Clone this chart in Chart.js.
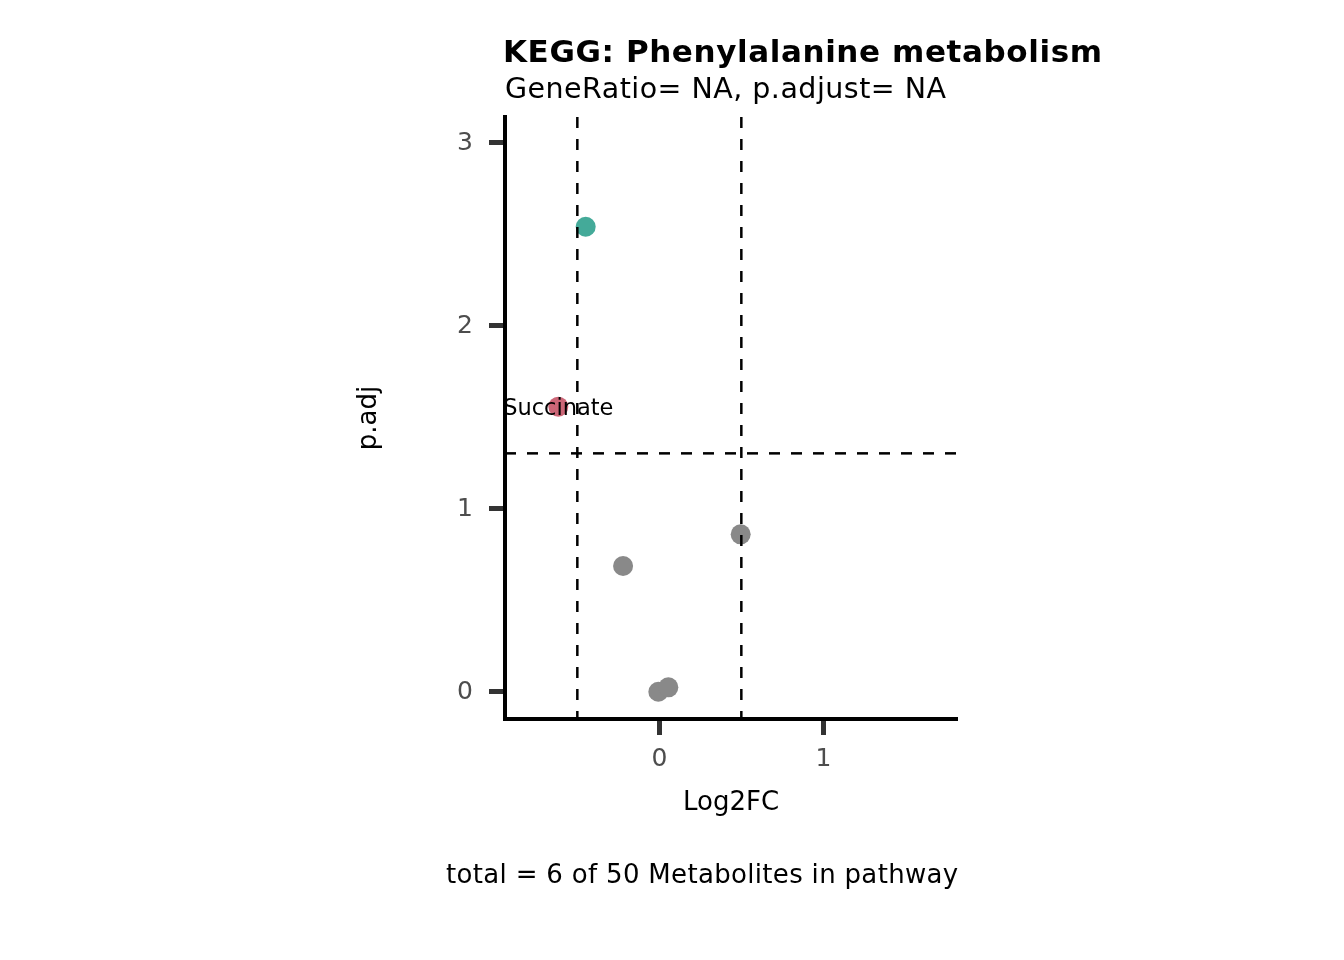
<!DOCTYPE html>
<html><head><meta charset="utf-8">
<script src="https://cdn.jsdelivr.net/npm/chart.js@4.4.1/dist/chart.umd.min.js"></script>
<style>html,body{margin:0;padding:0;background:#fff;}canvas{display:block;}</style>
</head><body>
<canvas id="c" width="1344" height="960"></canvas>
<script>
// ---- data ----
const pointLabels = ['', 'Succinate', '', '', '', ''];
const log2FC = [-0.449, -0.616, -0.221, 0.496, -0.006, 0.055];
const pAdj = [2.538, 1.556, 0.686, 0.859, 0.000, 0.024];
const groups = ['padj', 'padj_fc', 'ns', 'ns', 'ns', 'ns'];
const fcCutoffs = [-0.5, 0.5];
const pCutoffs = [1.301];
const xTicks = [0, 1];
const yTicks = [0, 1, 2, 3];
const xRange = [-0.941, 1.815];
const yRange = [-0.149, 3.137];
const titleText = 'KEGG: Phenylalanine metabolism';
const subtitleText = 'GeneRatio= NA, p.adjust= NA';
const xTitle = 'Log2FC';
const yTitle = 'p.adj';
const captionText = 'total = 6 of 50 Metabolites in pathway';

// ---- style ----
const groupColors = { padj: '#44AA99', padj_fc: '#CC6677', ns: '#898989' };
const FONT = "'DejaVu Sans', sans-serif";
const TICK_SIZE = 25, AXT_SIZE = 26, LAB_SIZE = 22.5;
const AREA = { left: 505, right: 957, top: 117, bottom: 719 };
const W = 1344, H = 960;
const TL = 16;

const xScaleH = 110;
const xTitlePadBottom = (AREA.bottom + xScaleH) - 803 - AXT_SIZE * 0.6;
const yScaleLeft = 340;
const yTitlePadTop = 369 - yScaleLeft - AXT_SIZE * 0.6;

// text blocks drawn outside the panel: [text, x, baseline, size, weight, width, align]
const textBlocks = [
  [titleText, 503, 62, 31, 'bold', 599, 'left'],
  [subtitleText, 505, 98, 28.5, 'normal', 441, 'left'],
  [captionText, 958, 883, 26, 'normal', 512, 'right']
];

function drawFitted(ctx, text, x, y, size, weight, target, align) {
  ctx.save();
  ctx.fillStyle = '#000';
  ctx.font = weight + ' ' + size + 'px ' + FONT;
  ctx.textBaseline = 'alphabetic';
  ctx.textAlign = 'left';
  const w0 = ctx.measureText(text).width;
  let w = w0;
  if ('letterSpacing' in ctx && text.length > 1) {
    const s = (target - w0) / (text.length - 1);
    ctx.letterSpacing = s.toFixed(2) + 'px';
    w = target;
  }
  const left = align === 'right' ? x - w : x;
  ctx.fillText(text, left, y);
  ctx.restore();
}

const points = log2FC.map((x, i) => ({ x, y: pAdj[i] }));
const datasets = [{
  data: points,
  pointBackgroundColor: groups.map(g => groupColors[g]),
  pointBorderWidth: 0,
  pointRadius: 10,
  pointHoverRadius: 10,
  showLine: false,
  order: 2
}];
fcCutoffs.forEach(c => datasets.push({
  data: [{ x: c, y: yRange[1] }, { x: c, y: yRange[0] }],
  showLine: true, borderColor: '#000', borderWidth: 2.5, borderDash: [11, 11],
  pointRadius: 0, fill: false, order: 0
}));
pCutoffs.forEach(c => datasets.push({
  data: [{ x: xRange[0], y: c }, { x: xRange[1], y: c }],
  showLine: true, borderColor: '#000', borderWidth: 2.5, borderDash: [11, 11],
  pointRadius: 0, fill: false, order: 0
}));

const annotate = {
  id: 'annotate',
  afterDatasetsDraw(chart) {
    const ctx = chart.ctx;
    const xs = chart.scales.x, ys = chart.scales.y;
    ctx.save();
    ctx.fillStyle = '#000';
    ctx.font = LAB_SIZE + 'px ' + FONT;
    ctx.textAlign = 'center';
    ctx.textBaseline = 'alphabetic';
    pointLabels.forEach((t, i) => {
      if (t) ctx.fillText(t, xs.getPixelForValue(log2FC[i]), ys.getPixelForValue(pAdj[i]) + LAB_SIZE * 0.729 / 2);
    });
    ctx.restore();
  },
  afterDraw(chart) {
    textBlocks.forEach(b => drawFitted(chart.ctx, ...b));
  }
};

new Chart(document.getElementById('c'), {
  type: 'scatter',
  data: { datasets },
  plugins: [annotate],
  options: {
    responsive: false,
    devicePixelRatio: 1,
    animation: false,
    events: [],
    layout: { padding: { left: yScaleLeft, right: W - AREA.right, top: AREA.top, bottom: H - AREA.bottom - xScaleH } },
    plugins: {
      legend: { display: false },
      tooltip: { enabled: false },
      title: { display: false },
      subtitle: { display: false }
    },
    scales: {
      x: {
        type: 'linear', min: xRange[0], max: xRange[1],
        afterBuildTicks: s => { s.ticks = xTicks.map(v => ({ value: v })); },
        afterFit: s => { s.height = xScaleH; },
        border: { display: true, color: '#000', width: 4 },
        grid: { drawOnChartArea: false, drawTicks: true, tickLength: TL, tickWidth: 5, tickColor: '#333333' },
        ticks: { color: '#4D4D4D', padding: 9, font: { family: FONT, size: TICK_SIZE }, maxRotation: 0 },
        title: { display: true, text: xTitle, color: '#000', font: { family: FONT, size: AXT_SIZE, lineHeight: 1.2 }, padding: { top: 0, bottom: xTitlePadBottom } }
      },
      y: {
        type: 'linear', min: yRange[0], max: yRange[1],
        afterBuildTicks: s => { s.ticks = yTicks.map(v => ({ value: v })); },
        afterFit: s => { s.width = AREA.left - yScaleLeft; },
        border: { display: true, color: '#000', width: 4 },
        grid: { drawOnChartArea: false, drawTicks: true, tickLength: TL, tickWidth: 5, tickColor: '#333333' },
        ticks: { color: '#4D4D4D', padding: 16, labelOffset: 1, font: { family: FONT, size: TICK_SIZE } },
        title: { display: true, text: yTitle, color: '#000', font: { family: FONT, size: AXT_SIZE, lineHeight: 1.2 }, padding: { top: yTitlePadTop, bottom: 0 } }
      }
    }
  }
});
</script>
</body></html>
